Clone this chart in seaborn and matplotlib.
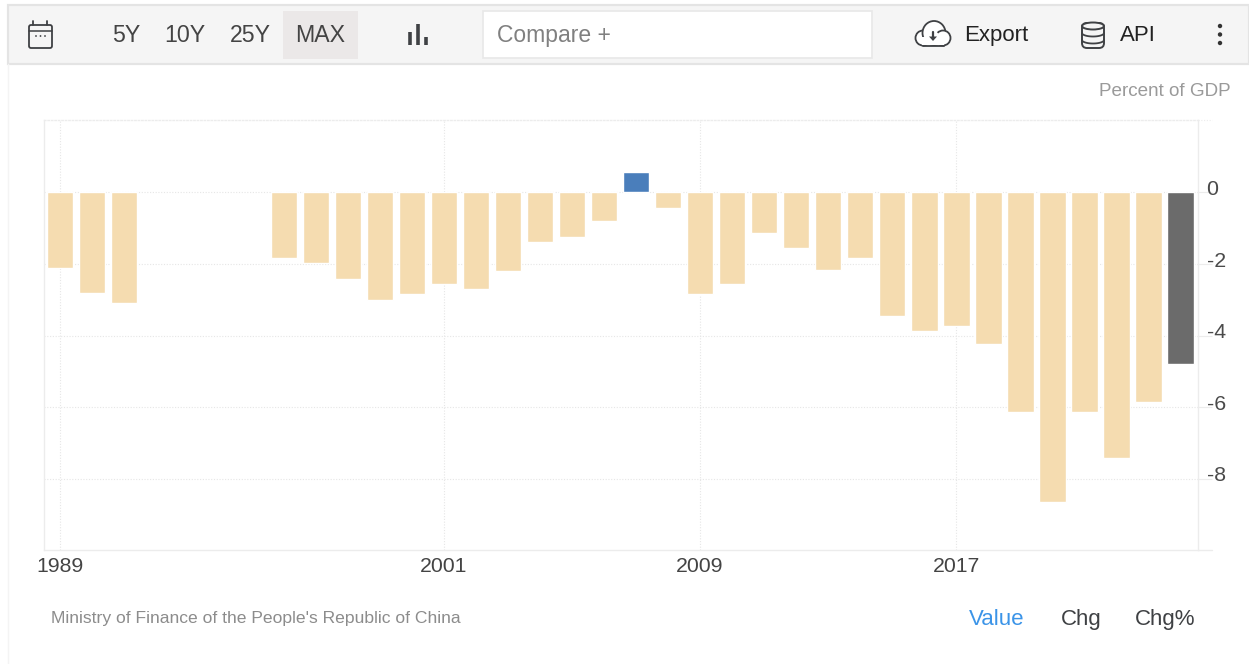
import numpy as np
import pandas as pd
import matplotlib
matplotlib.use("Agg")
import matplotlib.pyplot as plt
from matplotlib.patches import Rectangle, FancyBboxPatch, Ellipse, Circle, Polygon
from matplotlib.transforms import ScaledTranslation
import seaborn as sns

years = list(range(1989, 2025))
values = [-2.11, -2.81, -3.08, np.nan, np.nan, np.nan, np.nan,
          -1.83, -1.97, -2.42, -3.00, -2.84, -2.56, -2.70, -2.19, -1.38, -1.25, -0.80,
          0.58, -0.43, -2.84, -2.56, -1.13, -1.55, -2.17, -1.83, -3.45, -3.87, -3.73,
          -4.23, -6.13, -8.64, -6.13, -7.43, -5.85, -4.79]
kinds = ["hist"] * 35 + ["latest"]
kinds[years.index(2007)] = "surplus"
palette = {"hist": "#f5dcb0", "surplus": "#4a7ebb", "latest": "#6b6b6b"}
x_ticks = [1989, 2001, 2009, 2017]
y_ticks = [0, -2, -4, -6, -8]
unit_label = "Percent of GDP"
source_label = "Ministry of Finance of the People's Republic of China"
range_labels = ["5Y", "10Y", "25Y", "MAX"]
mode_labels = ["Value", "Chg", "Chg%"]

W, H = 1249, 664
sns.set_theme(style="white")
plt.rcParams["font.family"] = ["Liberation Sans", "DejaVu Sans"]
fig = plt.figure(figsize=(W / 100, H / 100), dpi=100, facecolor="white")

# chart area
ax = fig.add_axes([44 / W, 1 - 550 / H, (1198 - 44) / W, (550 - 120) / H])
df = pd.DataFrame({"year": years, "value": values, "kind": kinds})
sns.barplot(data=df, x="year", y="value", hue="kind", palette=palette, native_scale=True,
            dodge=False, width=0.84, legend=False, saturation=1, ax=ax, zorder=3)
ax.set_xlim(1988.5, 2024.56)
ax.set_ylim(-9.986, 2.025)
ax.set_xlabel("")
ax.set_ylabel("")
ax.set_xticks(x_ticks)
ax.set_xticklabels([str(v) for v in x_ticks])
ax.set_yticks(y_ticks)
ax.set_yticklabels([str(v) for v in y_ticks])
ax.yaxis.tick_right()
ax.grid(True, color="#e6e6e6", linestyle=(0, (1, 1.5)), linewidth=0.8, zorder=0)
ax.set_axisbelow(True)
ax.tick_params(axis="y", length=10, width=0.8, color="#ececec", pad=-1, labelsize=15.4, labelcolor="#4a4a4a")
ax.tick_params(axis="x", length=0, pad=5, labelsize=15.3, labelcolor="#444444")
offset = ScaledTranslation(-4 / 100, 5 / 100, fig.dpi_scale_trans)
for lab in ax.get_yticklabels():
    lab.set_transform(lab.get_transform() + offset)
for name, sp in ax.spines.items():
    sp.set_color("#ececec")
    sp.set_linewidth(1.0)
ax.spines["top"].set_linestyle((0, (1, 1.5)))

# overlay in pixel coordinates for page furniture
ov = fig.add_axes([0, 0, 1, 1], facecolor="none", zorder=5)
ov.set_xlim(0, W)
ov.set_ylim(H, 0)
ov.axis("off")

ov.plot([8, 8], [64, 664], color="#f4f4f4", lw=1)
ov.plot([1198, 1212], [550, 550], color="#ececec", lw=1)
ov.plot([1198, 1212], [120, 120], color="#ececec", lw=0.8, ls=(0, (1, 1.5)))
ov.add_patch(Rectangle((8, 5), W - 8, 59, fc="#f5f5f5", ec="#e4e4e4", lw=1.6))
ov.add_patch(Rectangle((283, 11), 75, 48, fc="#ebe8e8", ec="none"))
ov.add_patch(Rectangle((483, 11), 389, 47, fc="white", ec="#e8e8e8", lw=1.2))

dark = "#3f4144"
for s, cx in zip(range_labels, [126, 185, 250, 320]):
    ov.text(cx, 35.5, s, ha="center", va="center", fontsize=16.7, color="#444444")
ov.text(497, 35.5, "Compare +", ha="left", va="center", fontsize=16.5, color="#808080")
ov.text(964, 35.5, "Export", ha="left", va="center", fontsize=16, color="#222222")
ov.text(1120, 35.5, "API", ha="left", va="center", fontsize=16, color="#222222")
ov.text(1231, 92, unit_label, ha="right", va="center", fontsize=13.6, color="#9a9a9a")
ov.text(51, 619, source_label, ha="left", va="center", fontsize=12.6, color="#8c8c8c")
for s, cx, c in zip(mode_labels, [996.5, 1081, 1165], ["#3b94e8", dark, dark]):
    ov.text(cx, 619.5, s, ha="center", va="center", fontsize=16, color=c)

# calendar icon
ov.add_patch(FancyBboxPatch((29, 25), 23, 23, boxstyle="round,pad=0,rounding_size=2", fc="none", ec=dark, lw=1.3))
ov.plot([29, 52], [31, 31], color=dark, lw=1.1)
ov.plot([33.5, 33.5], [21, 25], color=dark, lw=1.3)
ov.plot([47.5, 47.5], [21, 25], color=dark, lw=1.3)
for cx in (36, 40.5, 45):
    ov.add_patch(Circle((cx, 36), 0.9, fc=dark, ec="none"))

# chart type icon
for cx, y0 in zip((410.5, 418.5, 426.5), (32, 24, 37)):
    ov.plot([cx, cx], [y0, 45], color=dark, lw=2.6, solid_capstyle="butt")

# cloud icon
for (cx, cy, rw, rh) in [(923, 38, 15, 15), (934, 33, 23, 24), (943, 38, 15, 15)]:
    ov.add_patch(Ellipse((cx, cy), rw, rh, fc="white", ec=dark, lw=1.3, zorder=2))
ov.add_patch(Rectangle((922, 37), 22, 8, fc="white", ec="none", zorder=3))
ov.plot([923, 944], [45.5, 45.5], color=dark, lw=1.3, zorder=3)
ov.add_patch(Circle((933, 37), 6.2, fc="white", ec="none", zorder=3))
ov.plot([933, 933], [32, 37], color=dark, lw=1.6, zorder=4)
ov.add_patch(Polygon([[929, 36.5], [937, 36.5], [933, 41]], fc=dark, ec="none", zorder=4))

# database icon
ov.add_patch(FancyBboxPatch((1082, 23), 22, 25, boxstyle="round,pad=0,rounding_size=5", fc="none", ec=dark, lw=1.4))
ov.add_patch(Ellipse((1093, 26), 22, 7, fc="#f5f5f5", ec=dark, lw=1.4))
for y0 in (33, 40):
    t = np.linspace(0, np.pi, 30)
    ov.plot(1093 + 11 * np.cos(t), y0 + 3.5 * np.sin(t), color=dark, lw=1.3)

# menu dots
for cy in (26, 34.5, 43):
    ov.add_patch(Circle((1220, cy), 2.2, fc="#333333", ec="none"))

fig.savefig("out.png", dpi=100)
